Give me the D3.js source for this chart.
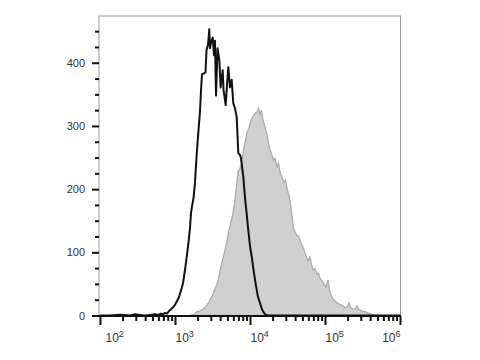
<!DOCTYPE html>
<html lang="en">
<head>
    <meta charset="UTF-8">
    <title>Flow histogram</title>
    <script src="https://d3js.org/d3.v7.min.js"></script>
    <style>
        body { margin: 0; background: #fff; }
        text { font-family: "Liberation Sans", Arial, sans-serif; fill: #333; }
        .tick line { stroke: #111; stroke-width: 2; }
    </style>
</head>
<body>
    <svg width="480" height="360"></svg>

    <script>
        // black outline histogram (control), x = log10 intensity, y = count
        const blackLog = [2.000, 2.133, 2.267, 2.400, 2.467, 2.533, 2.600, 2.667, 2.733, 2.773, 2.813, 2.840,
            2.867, 2.893, 2.920, 2.947, 2.973, 3.000, 3.027, 3.053, 3.080, 3.107, 3.133, 3.160, 3.180, 3.200,
            3.213, 3.227, 3.247, 3.267, 3.280, 3.293, 3.313, 3.333, 3.347, 3.360, 3.387, 3.407, 3.420, 3.440,
            3.457, 3.467, 3.480, 3.503, 3.520, 3.533, 3.547, 3.567, 3.591, 3.609, 3.636, 3.647, 3.676, 3.693,
            3.711, 3.733, 3.756, 3.777, 3.800, 3.823, 3.844, 3.867, 3.880, 3.911, 3.933, 3.953, 3.977, 4.000,
            4.023, 4.040, 4.053, 4.080, 4.107, 4.133, 4.160, 4.187, 4.213, 4.240, 6.000];
        const blackCount = [0, 0, 1, 0, 2, 1, 0, 1, 2, 1, 3, 2,
            4, 3, 7, 10, 13, 17, 23, 29, 40, 51, 72, 96, 116, 138,
            162, 173, 186, 211, 238, 261, 293, 322, 357, 382, 383, 385, 420, 428,
            453, 423, 432, 440, 412, 435, 348, 423, 404, 361, 388, 357, 333, 364,
            393, 361, 373, 336, 328, 314, 257, 254, 249, 219, 187, 164, 135, 110,
            93, 78, 67, 47, 29, 20, 10, 4, 1, 0, 0];

        // grey filled histogram (stained)
        const greyLog = [3.200, 3.267, 3.293, 3.333, 3.373, 3.400, 3.427, 3.453, 3.480, 3.507, 3.533, 3.560,
            3.587, 3.613, 3.640, 3.667, 3.693, 3.720, 3.747, 3.773, 3.800, 3.820, 3.840, 3.867, 3.893, 3.913,
            3.933, 3.960, 3.987, 4.013, 4.040, 4.067, 4.093, 4.113, 4.133, 4.153, 4.173, 4.200, 4.223, 4.240,
            4.267, 4.293, 4.313, 4.333, 4.360, 4.380, 4.400, 4.427, 4.453, 4.473, 4.493, 4.520, 4.540, 4.560,
            4.580, 4.600, 4.627, 4.647, 4.667, 4.693, 4.720, 4.747, 4.773, 4.800, 4.820, 4.840, 4.867, 4.893,
            4.913, 4.933, 4.960, 4.987, 5.013, 5.040, 5.060, 5.080, 5.107, 5.133, 5.160, 5.187, 5.213, 5.240,
            5.267, 5.293, 5.320, 5.347, 5.373, 5.400, 5.427, 5.453, 5.493, 5.533, 5.573, 5.613, 5.653, 5.707];
        const greyCount = [0, 2, 6, 7, 10, 13, 17, 21, 28, 34, 42, 50,
            62, 77, 91, 104, 118, 135, 148, 162, 183, 205, 227, 233, 243, 262,
            273, 290, 296, 309, 315, 320, 322, 328, 318, 325, 309, 299, 288, 277,
            262, 254, 246, 249, 235, 241, 227, 219, 211, 214, 201, 190, 175, 158,
            138, 132, 126, 126, 119, 111, 104, 94, 86, 93, 81, 72, 74, 66,
            67, 59, 55, 50, 45, 56, 40, 32, 26, 23, 20, 18, 17, 15,
            13, 13, 20, 12, 10, 10, 15, 9, 7, 6, 4, 2, 1, 0];

        const majorTicks = [1e2, 1e3, 1e4, 1e5, 1e6];
        const exponents = ['2', '3', '4', '5', '6'];
        const yMajor = [0, 100, 200, 300, 400];

        const svg = d3.select('svg');
        const plotLeft = 99, plotRight = 400.5, plotTop = 16, plotBottom = 316;

        const x = d3.scaleLog().domain([1e2, 1e6]).range([100, 400]);
        const y = d3.scaleLinear().domain([0, 474]).range([315.5, plotTop]);

        // frame
        svg.append('rect')
            .attr('x', plotLeft).attr('y', plotTop)
            .attr('width', plotRight - plotLeft).attr('height', plotBottom - plotTop)
            .attr('fill', 'none').attr('stroke', '#9a9a9a').attr('stroke-width', 1);

        // grey filled histogram
        const grey = greyLog.map((d, i) => [Math.pow(10, d), greyCount[i]]);
        svg.append('path').datum(grey)
            .attr('d', d3.area().x(d => x(d[0])).y0(y(0)).y1(d => y(d[1])))
            .attr('fill', '#d0d0d0')
            .attr('stroke', '#ababab')
            .attr('stroke-width', 1.3);

        // black outline histogram
        const black = blackLog.map((d, i) => [Math.pow(10, d), blackCount[i]]);
        svg.append('path').datum(black)
            .attr('d', d3.line().x(d => x(d[0])).y(d => y(d[1])))
            .attr('fill', 'none')
            .attr('stroke', '#111')
            .attr('stroke-width', 2)
            .attr('stroke-linejoin', 'round');

        // x axis, minor ticks
        let minor = [];
        for (let e = 2; e < 6; e++) {
            for (let k = 2; k < 10; k++) minor.push(k * Math.pow(10, e));
        }
        svg.append('g').attr('transform', 'translate(0,' + plotBottom + ')')
            .call(d3.axisBottom(x).tickValues(minor).tickSize(5).tickFormat(''))
            .call(g => g.select('.domain').remove());

        const xg = svg.append('g').attr('transform', 'translate(0,' + plotBottom + ')')
            .call(d3.axisBottom(x).tickValues(majorTicks).tickSize(9).tickFormat(''))
            .call(g => g.select('.domain').remove());

        svg.append('line')
            .attr('x1', plotLeft).attr('x2', plotRight + 0.5)
            .attr('y1', plotBottom).attr('y2', plotBottom)
            .attr('stroke', '#111').attr('stroke-width', 2);

        xg.selectAll('.tick').each(function (d, i) {
            const last = i === majorTicks.length - 1;
            const t = d3.select(this).append('text')
                .attr('y', 26)
                .attr('x', i === 0 ? 5 : 0)
                .attr('text-anchor', last ? 'end' : 'start')
                .attr('font-size', 12);
            t.append('tspan').text('10');
            t.append('tspan').attr('dy', -5).attr('font-size', 9).text(exponents[i]);
        });

        // y axis
        let yMinor = d3.range(25, 475, 25).filter(v => v % 100 !== 0);
        svg.append('g').attr('transform', 'translate(' + plotLeft + ',0)')
            .call(d3.axisLeft(y).tickValues(yMinor).tickSize(4).tickFormat(''))
            .call(g => g.select('.domain').remove());

        svg.append('g').attr('transform', 'translate(' + plotLeft + ',0)')
            .call(d3.axisLeft(y).tickValues(yMajor).tickSize(7).tickPadding(7))
            .call(g => g.select('.domain').remove())
            .call(g => g.selectAll('text')
                .attr('font-size', 11)
                .attr('font-family', '"Liberation Sans", Arial, sans-serif')
                .attr('fill', '#333'));
    </script>
</body>
</html>
